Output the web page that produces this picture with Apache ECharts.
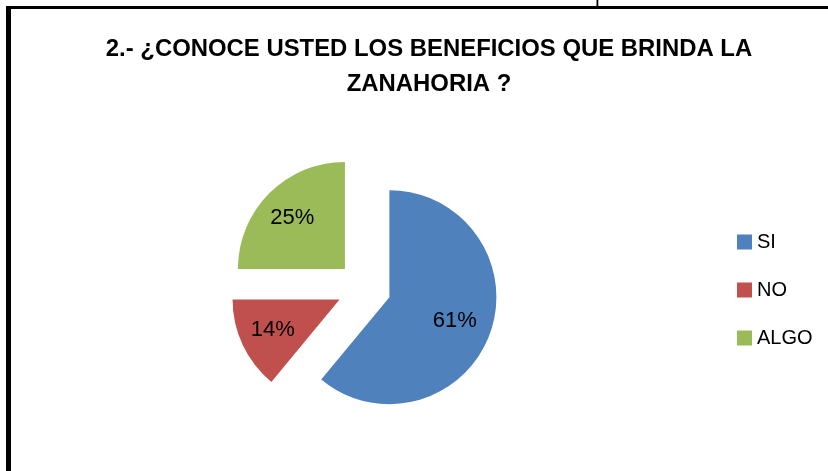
<!DOCTYPE html>
<html>
<head>
<meta charset="utf-8">
<script src="https://cdn.jsdelivr.net/npm/echarts@6/dist/echarts.min.js"></script>
<style>
html,body{margin:0;padding:0;background:#fff;}
#chart{width:828px;height:471px;}
</style>
</head>
<body>
<div id="chart"></div>
<script>
const categories = ['SI', 'NO', 'ALGO'];
const values = [61, 14, 25];
const colors = ['#4F81BD', '#C0504D', '#9BBB59'];
const titleText = '2.- ¿CONOCE USTED LOS BENEFICIOS QUE BRINDA LA\nZANAHORIA ?';

const chart = echarts.init(document.getElementById('chart'), null, {renderer: 'canvas'});

const center = [364, 288];
const radius = 107;
const offset = 27;

const mainData = categories.map((c, i) => ({
  name: c, value: values[i], selected: true,
  itemStyle: {color: colors[i]}
}));
const labelData = categories.map((c, i) => ({
  name: c, value: values[i], selected: true,
  itemStyle: {color: 'rgba(0,0,0,0)'}
}));

chart.setOption({
  backgroundColor: '#ffffff',
  animation: false,
  title: {
    text: titleText,
    left: 424,
    top: 27,
    textAlign: 'center',
    textStyle: {
      fontFamily: 'Liberation Sans',
      fontWeight: 'bold',
      fontSize: 23.9,
      lineHeight: 35,
      color: '#000'
    }
  },
  legend: {
    orient: 'vertical',
    left: 732,
    top: 227,
    itemWidth: 15,
    itemHeight: 15,
    itemGap: 28,
    icon: 'rect',
    selectedMode: false,
    data: categories.map((c, i) => ({name: c, itemStyle: {color: colors[i]}})),
    textStyle: {fontFamily: 'Liberation Sans', fontSize: 20, color: '#000', lineHeight: 20}
  },
  graphic: [
    {type: 'rect', shape: {x: 6, y: 6, width: 5, height: 470}, style: {fill: '#000'}, silent: true},
    {type: 'rect', shape: {x: 6, y: 6, width: 830, height: 3}, style: {fill: '#000'}, silent: true},
    {type: 'rect', shape: {x: 596.5, y: 0, width: 1.8, height: 7}, style: {fill: '#000'}, silent: true}
  ],
  series: [
    {
      type: 'pie',
      center: center,
      radius: [0, radius],
      startAngle: 90,
      clockwise: true,
      selectedMode: 'multiple',
      selectedOffset: offset,
      label: {show: false},
      labelLine: {show: false},
      emphasis: {disabled: true},
      data: mainData
    },
    {
      type: 'pie',
      center: center,
      radius: [30, radius],
      startAngle: 90,
      clockwise: true,
      selectedMode: 'multiple',
      selectedOffset: offset,
      silent: true,
      legendHoverLink: false,
      label: {
        show: true,
        position: 'inside',
        formatter: '{d}%',
        fontFamily: 'Liberation Sans',
        fontSize: 22,
        color: '#000',
        padding: [10, 4, 0, 0]
      },
      labelLine: {show: false},
      emphasis: {disabled: true},
      data: labelData
    }
  ]
});
</script>
</body>
</html>
